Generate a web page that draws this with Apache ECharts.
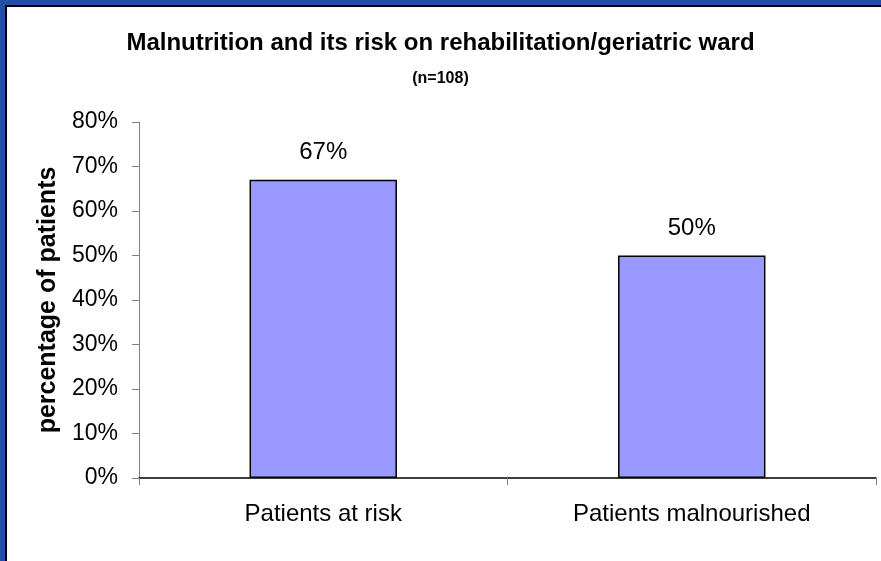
<!DOCTYPE html>
<html><head><meta charset="utf-8">
<script src="https://cdn.jsdelivr.net/npm/echarts@6/dist/echarts.min.js"></script>
<style>html,body{margin:0;padding:0;background:#fff}#c{width:881px;height:561px}</style>
</head><body><div id="c"></div>
<script>
const categories = ["Patients at risk", "Patients malnourished"];
const values = [0.67, 0.50];
const yTicks = {min: 0, max: 0.8, interval: 0.1};
const titleText = "Malnutrition and its risk on rehabilitation/geriatric ward";
const subtitleText = "(n=108)";
const yName = "percentage of patients";

const pct = v => Math.round(v * 100) + "%";
const chart = echarts.init(document.getElementById('c'));
const F = "Liberation Sans, Arial, sans-serif";
chart.setOption({
  backgroundColor: '#fff',
  animation: false,
  title: {
    text: titleText, subtext: subtitleText, left: 'center', top: 26, itemGap: 16,
    textStyle: {fontFamily: F, fontSize: 24, fontWeight: 'bold', color: '#000'},
    subtextStyle: {fontFamily: F, fontSize: 16, fontWeight: 'bold', color: '#000'}
  },
  graphic: [
    {type: 'rect', shape: {x: 0, y: 0, width: 881, height: 5}, style: {fill: '#2350a6'}, silent: true},
    {type: 'rect', shape: {x: 0, y: 0, width: 5, height: 561}, style: {fill: '#2350a6'}, silent: true},
    {type: 'rect', shape: {x: 5, y: 5, width: 876, height: 2}, style: {fill: '#000'}, silent: true},
    {type: 'rect', shape: {x: 5, y: 5, width: 2, height: 556}, style: {fill: '#000'}, silent: true}
  ],
  grid: {left: 139, right: 5, top: 122, bottom: 83, containLabel: false},
  xAxis: {
    type: 'category', data: categories,
    axisLine: {lineStyle: {color: '#000', width: 1.5}},
    axisTick: {show: true, length: 7, lineStyle: {color: '#808080', width: 1}},
    axisLabel: {fontFamily: F, fontSize: 24, color: '#000', margin: 24}
  },
  yAxis: {
    type: 'value', min: yTicks.min, max: yTicks.max, interval: yTicks.interval,
    name: yName, nameLocation: 'middle', nameGap: 73, nameRotate: 90,
    nameTextStyle: {fontFamily: F, fontSize: 25, fontWeight: 'bold', color: '#000'},
    axisLine: {show: true, lineStyle: {color: '#808080', width: 1}},
    axisTick: {show: true, length: 7, lineStyle: {color: '#808080'}},
    splitLine: {show: false},
    axisLabel: {fontFamily: F, fontSize: 23, color: '#000', margin: 21, formatter: pct}
  },
  series: [{
    type: 'bar', data: values, barWidth: '40%',
    itemStyle: {color: '#9999ff', borderColor: '#000', borderWidth: 1.5},
    label: {show: true, position: 'top', distance: 15, fontFamily: F, fontSize: 24, color: '#000',
            formatter: p => pct(p.value)}
  }]
});
</script></body></html>
